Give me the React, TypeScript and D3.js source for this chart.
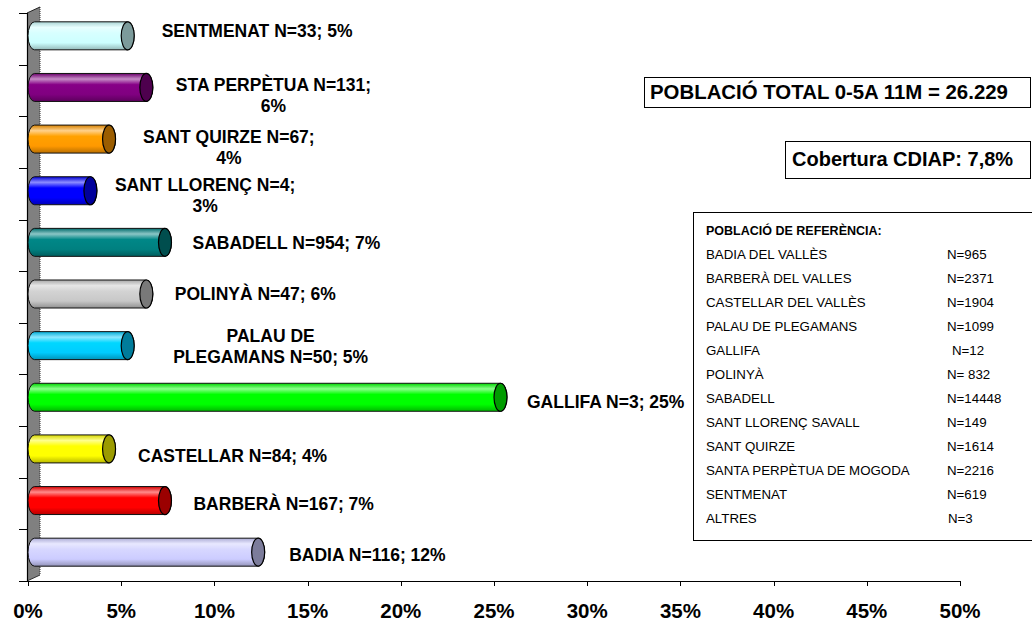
import React, { useEffect, useRef } from "react";
import * as d3 from "d3";

// ---- data (top to bottom as displayed) ----
const categories = [
  "SENTMENAT",
  "STA PERPÈTUA",
  "SANT QUIRZE",
  "SANT LLORENÇ",
  "SABADELL",
  "POLINYÀ",
  "PALAU DE PLEGAMANS",
  "GALLIFA",
  "CASTELLAR",
  "BARBERÀ",
  "BADIA",
];
const cases = [33, 131, 67, 4, 954, 47, 50, 3, 84, 167, 116];
const percents = [5, 6, 4, 3, 7, 6, 5, 25, 4, 7, 12];
const barColors = [
  "#CCFFFF",
  "#800080",
  "#FF9900",
  "#0000FF",
  "#008080",
  "#C8C8C8",
  "#00CCFF",
  "#00FF00",
  "#FFFF00",
  "#FF0000",
  "#CCCCFF",
];
// where each data label wraps (token after which a new line starts)
const labelWrapAfter = [null, ";", ";", ";", null, null, "DE", null, null, null, null];
const xTickValues = [0, 5, 10, 15, 20, 25, 30, 35, 40, 45, 50];

const totalText = "POBLACIÓ TOTAL 0-5A 11M = 26.229";
const coverageText = "Cobertura CDIAP: 7,8%";
const legendTitle = "POBLACIÓ DE REFERÈNCIA:";
const legendNames = [
  "BADIA DEL VALLÈS",
  "BARBERÀ DEL VALLES",
  "CASTELLAR DEL VALLÈS",
  "PALAU DE PLEGAMANS",
  "GALLIFA",
  "POLINYÀ",
  "SABADELL",
  "SANT LLORENÇ SAVALL",
  "SANT QUIRZE",
  "SANTA PERPÈTUA DE MOGODA",
  "SENTMENAT",
  "ALTRES",
];
const legendN = ["N=965", "N=2371", "N=1904", "N=1099", "N=12", "N= 832", "N=14448", "N=149", "N=1614", "N=2216", "N=619", "N=3"];

// label layout nudges (px) to follow the hand-placed labels of the original
const labelNudgeX = [5.5, 1, 5.5, -4, -1, 0, 17, -2, 0.5, 0, 2.5];
const labelNudgeY = [-7.8, 4.3, 5.2, 1.6, -2.2, -3.3, -2.6, 1, 3.4, 0.1, -0.8];
const legendNudgeX = [0, 0, 0, 0, 5, 0, 0, 0, 0, 0, 0, 1];

const FONT = "'Liberation Sans', Arial, Helvetica, sans-serif";

export default function App() {
  const ref = useRef<SVGSVGElement | null>(null);

  useEffect(() => {
    const svg = d3.select(ref.current);
    svg.selectAll("*").remove();

    const x = d3.scaleLinear().domain([0, 50]).range([28, 960]);
    const y = d3.scaleBand<string>().domain(categories).range([13, 581]);
    const DX = 13;
    const DY = -6;
    const RX = 6.5;
    const RY = 14;
    const bw = y.bandwidth();

    const defs = svg.append("defs");
    barColors.forEach((c, i) => {
      const base = d3.rgb(c);
      const g = defs
        .append("linearGradient")
        .attr("id", "cyl" + i)
        .attr("x1", 0)
        .attr("y1", 0)
        .attr("x2", 0)
        .attr("y2", 1);
      const stops: [number, string][] = [
        [0, base.darker(0.5).formatHex()],
        [0.2, d3.interpolateRgb(base, "#ffffff")(0.55)],
        [0.4, base.brighter(0.15).formatHex()],
        [0.75, base.formatHex()],
        [1, base.darker(0.9).formatHex()],
      ];
      stops.forEach(([o, col]) => g.append("stop").attr("offset", o).attr("stop-color", col));
    });

    // wall (3D side wall)
    const x0 = x(0);
    const yTop = 13;
    const yBot = 581;
    svg
      .append("path")
      .attr(
        "d",
        `M${x0 - 1},${yBot} L${x0 - 1},${yTop} L${x0 - 1 + DX},${yTop + DY} L${x0 - 1 + DX},${yBot + DY} Z`
      )
      .attr("fill", "#808080")
      .attr("stroke", "none");
    svg
      .append("path")
      .attr("d", `M${x0 - 1 + DX},${yTop + DY} L${x0 - 1 + DX},${yBot + DY}`)
      .attr("stroke", "#333")
      .attr("stroke-width", 1)
      .attr("stroke-dasharray", "1,1");
    svg
      .append("path")
      .attr("d", `M${x0 - 1},${yTop} L${x0 - 1 + DX},${yTop + DY}`)
      .attr("stroke", "#222")
      .attr("stroke-width", 1);
    svg
      .append("path")
      .attr("d", `M${x0 - 1},${yBot} L${x0 - 1 + DX},${yBot + DY}`)
      .attr("stroke", "#333")
      .attr("stroke-width", 1);

    // y axis line & ticks
    svg
      .append("line")
      .attr("x1", x0 - 0.5)
      .attr("x2", x0 - 0.5)
      .attr("y1", yTop)
      .attr("y2", yBot)
      .attr("stroke", "#000")
      .attr("stroke-width", 1.2);
    const boundaries = categories.map((c) => y(c) as number).concat([yBot]);
    svg
      .selectAll("line.ytick")
      .data(boundaries)
      .join("line")
      .attr("class", "ytick")
      .attr("x1", 19)
      .attr("x2", x0 - 0.5)
      .attr("y1", (d) => Math.round(d) + 0.5)
      .attr("y2", (d) => Math.round(d) + 0.5)
      .attr("stroke", "#000")
      .attr("stroke-width", 1);

    // x axis
    svg
      .append("line")
      .attr("x1", x0 - 1)
      .attr("x2", x(50))
      .attr("y1", yBot + 0.5)
      .attr("y2", yBot + 0.5)
      .attr("stroke", "#000")
      .attr("stroke-width", 1.2);
    svg
      .selectAll("line.xtick")
      .data(xTickValues)
      .join("line")
      .attr("class", "xtick")
      .attr("x1", (d) => Math.round(x(d)) + 0.5)
      .attr("x2", (d) => Math.round(x(d)) + 0.5)
      .attr("y1", yBot)
      .attr("y2", yBot + 5)
      .attr("stroke", "#000")
      .attr("stroke-width", 1);
    svg
      .selectAll("text.xlab")
      .data(xTickValues)
      .join("text")
      .attr("class", "xlab")
      .attr("x", (d) => x(d))
      .attr("y", 617.5)
      .attr("text-anchor", "middle")
      .attr("font-family", FONT)
      .attr("font-weight", "bold")
      .attr("font-size", 20.5)
      .attr("fill", "#000")
      .text((d) => d + "%");

    // bars (cylinders)
    categories.forEach((c, i) => {
      const cy = (y(c) as number) + bw / 2 + DY / 2;
      const bx0 = x(0) + DX / 2;
      const bx1 = x(percents[i]) + DX / 2;
      const base = d3.rgb(barColors[i]);
      svg
        .append("path")
        .attr(
          "d",
          `M${bx0},${cy - RY} L${bx1},${cy - RY} A${RX},${RY} 0 0 1 ${bx1},${cy + RY} L${bx0},${cy + RY} A${RX},${RY} 0 0 1 ${bx0},${cy - RY} Z`
        )
        .attr("fill", `url(#cyl${i})`)
        .attr("stroke", "#111")
        .attr("stroke-width", 1);
      svg
        .append("ellipse")
        .attr("cx", bx1)
        .attr("cy", cy)
        .attr("rx", RX)
        .attr("ry", RY)
        .attr("fill", base.darker(1.4).formatHex())
        .attr("stroke", "#000")
        .attr("stroke-width", 1.2);
    });

    // data labels
    const FS = 17.5;
    const LH = 21;
    categories.forEach((c, i) => {
      const full = `${c} N=${cases[i]}; ${percents[i]}%`;
      let lines = [full];
      const tok = labelWrapAfter[i];
      if (tok) {
        const k = full.indexOf(tok) + tok.length;
        lines = [full.slice(0, k).trim(), full.slice(k).trim()];
      }
      const g = svg.append("g");
      const texts = lines.map((l) =>
        g
          .append("text")
          .attr("font-family", FONT)
          .attr("font-weight", "bold")
          .attr("font-size", FS)
          .attr("fill", "#000")
          .attr("text-anchor", "middle")
          .text(l)
      );
      const widths = texts.map((t) => (t.node() as SVGTextElement).getComputedTextLength());
      const blockW = Math.max(...widths);
      const barRight = x(percents[i]) + DX / 2 + RX;
      const left = barRight + 22 + labelNudgeX[i];
      const center = (y(c) as number) + bw / 2 + labelNudgeY[i];
      texts.forEach((t, j) => {
        const capC = center + (j - (lines.length - 1) / 2) * LH;
        t.attr("x", left + blockW / 2).attr("y", capC + 0.358 * FS);
      });
    });

    // info boxes
    const box = (bx: number, by: number, bwid: number, bh: number) =>
      svg
        .append("rect")
        .attr("x", bx + 0.5)
        .attr("y", by + 0.5)
        .attr("width", bwid)
        .attr("height", bh)
        .attr("fill", "#fff")
        .attr("stroke", "#000")
        .attr("stroke-width", 1);
    box(644, 77, 386, 30);
    svg
      .append("text")
      .attr("x", 650)
      .attr("y", 99)
      .attr("font-family", FONT)
      .attr("font-weight", "bold")
      .attr("font-size", 20.4)
      .text(totalText);
    box(785, 141, 245, 37);
    svg
      .append("text")
      .attr("x", 792)
      .attr("y", 166)
      .attr("font-family", FONT)
      .attr("font-weight", "bold")
      .attr("font-size", 20)
      .text(coverageText);

    // reference population table
    box(693, 212, 360, 328);
    svg
      .append("text")
      .attr("x", 706)
      .attr("y", 234.5)
      .attr("font-family", FONT)
      .attr("font-weight", "bold")
      .attr("font-size", 12.5)
      .text(legendTitle);
    legendNames.forEach((nm, i) => {
      const yy = 254 + i * 24 + 4.8;
      svg
        .append("text")
        .attr("x", 706)
        .attr("y", yy)
        .attr("font-family", FONT)
        .attr("font-size", 13.3)
        .text(nm);
      svg
        .append("text")
        .attr("x", 947 + legendNudgeX[i])
        .attr("y", yy)
        .attr("font-family", FONT)
        .attr("font-size", 13.3)
        .text(legendN[i]);
    });
  }, []);

  return (
    <svg
      ref={ref}
      width={1032}
      height={623}
      style={{ position: "absolute", left: 0, top: 0, background: "#fff" }}
    />
  );
}
